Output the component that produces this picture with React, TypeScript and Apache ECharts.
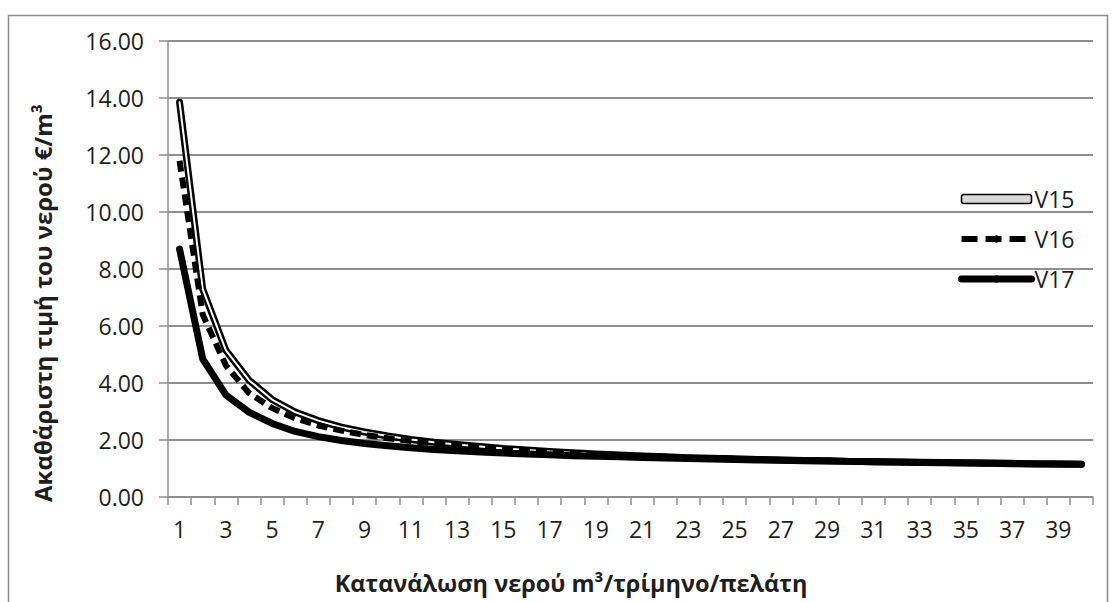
import React, { useEffect, useRef } from "react";
import * as echarts from "echarts";

const categories: string[] = Array.from({ length: 40 }, (_, i) => String(i + 1));

const v15: number[] = [
  13.85, 7.3, 5.15, 4.1, 3.42, 2.98, 2.68, 2.45, 2.28, 2.14,
  2.02, 1.92, 1.84, 1.77, 1.7, 1.65, 1.6, 1.55, 1.51, 1.47,
  1.44, 1.41, 1.38, 1.36, 1.34, 1.32, 1.3, 1.28, 1.27, 1.25,
  1.24, 1.23, 1.21, 1.2, 1.19, 1.18, 1.17, 1.16, 1.16, 1.15,
];
const v16: number[] = [
  11.8, 6.4, 4.62, 3.65, 3.12, 2.76, 2.51, 2.33, 2.18, 2.06,
  1.96, 1.88, 1.8, 1.74, 1.68, 1.63, 1.58, 1.54, 1.5, 1.47,
  1.44, 1.41, 1.38, 1.36, 1.34, 1.32, 1.3, 1.28, 1.27, 1.25,
  1.24, 1.23, 1.21, 1.2, 1.19, 1.18, 1.17, 1.16, 1.15, 1.15,
];
const v17: number[] = [
  8.7, 4.85, 3.58, 2.98, 2.58, 2.3, 2.12, 1.98, 1.88, 1.8,
  1.73, 1.67, 1.62, 1.58, 1.54, 1.51, 1.48, 1.45, 1.43, 1.41,
  1.39, 1.37, 1.35, 1.33, 1.32, 1.3, 1.29, 1.27, 1.26, 1.25,
  1.24, 1.23, 1.22, 1.21, 1.2, 1.19, 1.18, 1.17, 1.16, 1.15,
];

const seriesNames = ["V15", "V16", "V17"];
const xTitle = "Κατανάλωση νερού m³/τρίμηνο/πελάτη";
const yTitle = "Ακαθάριστη τιμή του νερού €/m³";

const FONT = "'Open Sans', 'Noto Sans', sans-serif";
const GRID = "#8f8f8f";
const TXT = "#1e1e1e";

export default function App() {
  const ref = useRef<HTMLDivElement>(null);
  useEffect(() => {
    if (!ref.current) return;
    const chart = echarts.init(ref.current, undefined, { renderer: "svg" });
    chart.setOption({
      animation: false,
      backgroundColor: "#ffffff",
      textStyle: { fontFamily: FONT },
      grid: { left: 168, right: 20, top: 41, bottom: 105, containLabel: false },
      legend: {
        orient: "vertical",
        left: 953,
        top: 182,
        itemWidth: 70,
        itemHeight: 9,
        itemGap: 16,
        textStyle: { fontSize: 23, color: TXT, fontFamily: FONT, lineHeight: 24, padding: [0, 0, 0, -2] },
        data: [
          {
            name: seriesNames[0],
            icon: "roundRect",
            itemStyle: { color: "#d8d8d8", borderColor: "#000", borderWidth: 1.6 },
          },
          {
            name: seriesNames[1],
            lineStyle: { color: "#000", width: 6, type: [16, 8] },
          },
          {
            name: seriesNames[2],
            lineStyle: { color: "#000", width: 7, type: "solid" },
          },
        ],
      },
      xAxis: {
        type: "category",
        data: categories,
        boundaryGap: true,
        axisLine: { show: true, lineStyle: { color: GRID, width: 1.5 } },
        axisTick: { show: true, interval: 0, length: 8, lineStyle: { color: GRID, width: 1.5 } },
        axisLabel: { interval: 1, fontSize: 23, color: TXT, margin: 20, fontFamily: FONT },
        splitLine: { show: false },
      },
      yAxis: {
        type: "value",
        min: 0,
        max: 16,
        interval: 2,
        axisLine: { show: true, lineStyle: { color: GRID, width: 1.5 } },
        axisTick: { show: true, length: 9, lineStyle: { color: GRID, width: 1.5 } },
        axisLabel: {
          fontSize: 23,
          color: TXT,
          margin: 24,
          fontFamily: FONT,
          formatter: (v: number) => v.toFixed(2),
        },
        splitLine: { show: true, lineStyle: { color: GRID, width: 1.8 } },
      },
      series: [
        {
          name: seriesNames[0],
          type: "line",
          data: v15,
          symbol: "none",
          lineStyle: { color: "#000", width: 7, cap: "round", join: "round" },
          itemStyle: { color: "#000" },
          z: 2,
        },
        {
          name: "V15-inner",
          type: "line",
          data: v15,
          symbol: "none",
          lineStyle: { color: "#ffffff", width: 2, cap: "round", join: "round" },
          itemStyle: { color: "#fff" },
          z: 3,
        },
        {
          name: seriesNames[1],
          type: "line",
          data: v16,
          symbol: "none",
          lineStyle: { color: "#000", width: 6, type: [11, 6], cap: "butt", join: "round" },
          itemStyle: { color: "#000" },
          z: 4,
        },
        {
          name: seriesNames[2],
          type: "line",
          data: v17,
          symbol: "none",
          lineStyle: { color: "#000", width: 7, cap: "round", join: "round" },
          itemStyle: { color: "#000" },
          z: 5,
        },
      ],
      graphic: [
        {
          type: "rect",
          shape: { x: 8.5, y: 15.5, width: 1099, height: 620 },
          style: { fill: "none", stroke: "#8a8a8a", lineWidth: 1.5 },
          silent: true,
          z: -1,
        },
        {
          type: "text",
          x: 571,
          y: 583,
          style: {
            text: xTitle,
            fontSize: 23.5,
            fontWeight: "bold",
            fontFamily: FONT,
            fill: TXT,
            textAlign: "center",
            textVerticalAlign: "middle",
          },
        },
        {
          type: "text",
          x: 42,
          y: 303,
          rotation: Math.PI / 2,
          style: {
            text: yTitle,
            fontSize: 24,
            fontWeight: "bold",
            fontFamily: FONT,
            fill: TXT,
            textAlign: "center",
            textVerticalAlign: "middle",
          },
        },
      ],
    });
    return () => chart.dispose();
  }, []);
  return <div ref={ref} style={{ width: 1113, height: 602, position: "absolute", left: 0, top: 0 }} />;
}
